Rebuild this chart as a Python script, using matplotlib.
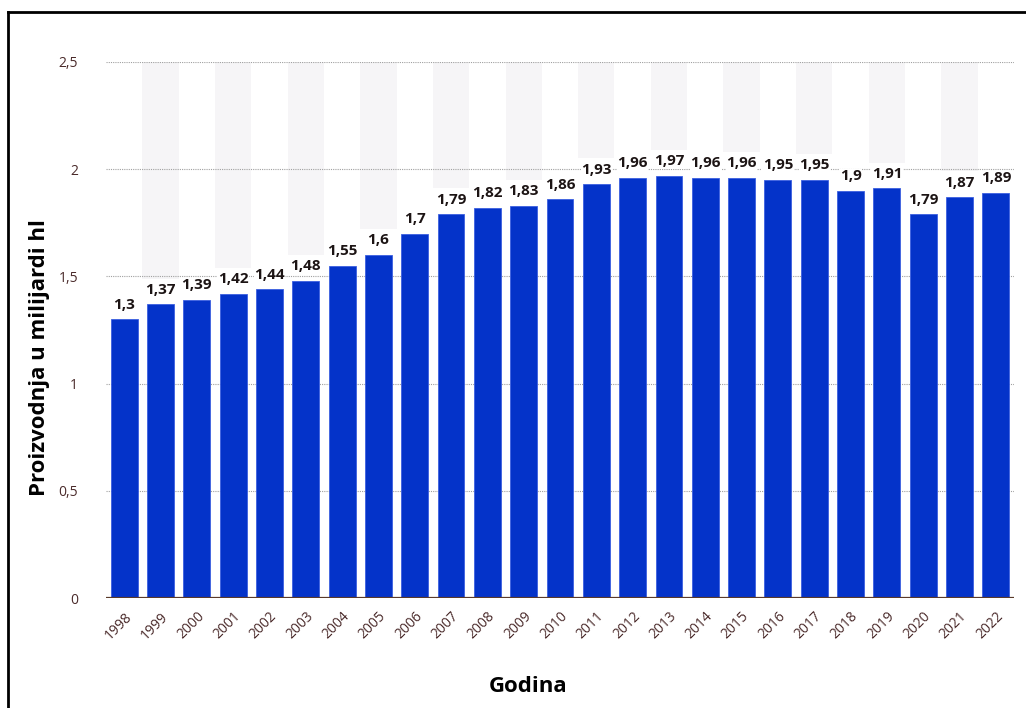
import matplotlib.pyplot as plt
from matplotlib.lines import Line2D

years = [str(y) for y in range(1998, 2023)]
values = [1.3, 1.37, 1.39, 1.42, 1.44, 1.48, 1.55, 1.6, 1.7, 1.79, 1.82, 1.83, 1.86,
          1.93, 1.96, 1.97, 1.96, 1.96, 1.95, 1.95, 1.9, 1.91, 1.79, 1.87, 1.89]
yticks = [0, 0.5, 1, 1.5, 2, 2.5]
ytick_labels = ['0', '0,5', '1', '1,5', '2', '2,5']

plt.rcParams['font.family'] = ['Open Sans', 'DejaVu Sans']

fig = plt.figure(figsize=(10.26, 7.08), dpi=100)
ax = fig.add_axes([106 / 1026, 110 / 708, 908 / 1026, 536 / 708])

x = list(range(len(years)))
ymax = yticks[-1]
# light alternating column bands, ending just above the value labels
odd = [i for i in x if i % 2 == 1]
band_bottom = [values[i] + 0.12 for i in odd]
ax.bar(odd, [ymax - b for b in band_bottom], bottom=band_bottom, width=1.0,
       color='#f6f5f7', lw=0, zorder=0)

for yv in yticks[1:]:
    ax.axhline(yv, color='#a0a0a0', lw=0.8, ls=(0, (1, 1)), zorder=1)

ax.bar(x, values, width=0.74, color='#0433c9', edgecolor='#3b5fe0', lw=0.6, zorder=2)

for i, v in zip(x, values):
    ax.text(i, v + 0.035, f'{v:g}'.replace('.', ','), ha='center', va='bottom',
            fontsize=11, fontweight='bold', color='#1c1414', zorder=3,
            bbox=dict(facecolor='white', edgecolor='none', pad=0.3))

ax.axhline(0, color='#5a3a2a', lw=1.6, zorder=3)

ax.set_xlim(-0.5, 24.5)
ax.set_ylim(0, ymax)
ax.set_yticks(yticks)
ax.set_yticklabels(ytick_labels)
ax.set_xticks(x)
ax.set_xticklabels(years, rotation=45, ha='right', rotation_mode='anchor')
ax.tick_params(axis='both', length=0, labelsize=10, labelcolor='#4a2a2a')
ax.tick_params(axis='x', pad=8)
ax.tick_params(axis='y', pad=20)
for s in ax.spines.values():
    s.set_visible(False)

fig.text(40 / 1026, 1 - 358 / 708, 'Proizvodnja u milijardi hl', rotation=90,
         ha='center', va='center', fontsize=16, fontweight='bold')
fig.text(528 / 1026, 1 - 686 / 708, 'Godina', ha='center', va='center',
         fontsize=16, fontweight='bold')

# screenshot frame
fig.add_artist(Line2D([8 / 1026, 1], [696 / 708, 696 / 708], color='black', lw=2,
                      transform=fig.transFigure))
fig.add_artist(Line2D([8 / 1026, 8 / 1026], [0, 696 / 708], color='black', lw=2,
                      transform=fig.transFigure))

fig.savefig('out.png', dpi=100)
